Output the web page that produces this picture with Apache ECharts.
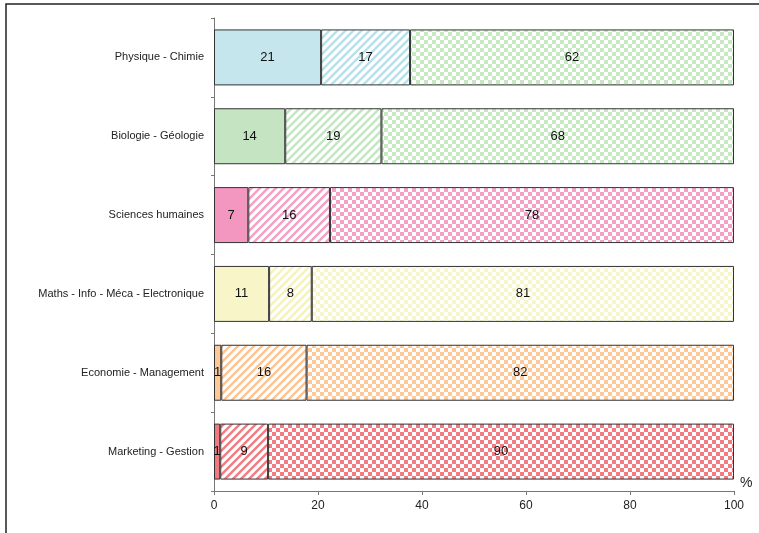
<!DOCTYPE html>
<html>
<head>
<meta charset="utf-8">
<script src="https://cdn.jsdelivr.net/npm/echarts@6/dist/echarts.min.js"></script>
<style>html,body{margin:0;padding:0;background:#fff}#c{width:759px;height:533px}</style>
</head>
<body>
<div id="c"></div>
<script>
var categories = ['Physique - Chimie', 'Biologie - Géologie', 'Sciences humaines', 'Maths - Info - Méca - Electronique', 'Economie - Management', 'Marketing - Gestion'];
var solidValues = [20.6, 13.7, 6.6, 10.6, 1.4, 1.2];
var hatchValues = [17.1, 18.5, 15.7, 8.2, 16.4, 9.2];
var checkValues = [62.3, 67.8, 77.7, 81.2, 82.2, 89.6];
var xTicks = [0, 20, 40, 60, 80, 100];
var solidColors = ['#c4e6ec', '#c5e5c2', '#f497c0', '#f8f6c8', '#fdc998', '#f17a80'];
var hatchColors = ['#b9e0e9', '#c5e5c2', '#f5a0c6', '#f6f2bf', '#fcc490', '#f27c82'];
var checkColors = ['#c6e9c3', '#c6e9c3', '#f5a0c6', '#f8f6c8', '#fdc998', '#f27c82'];

function hatchPattern(color) {
  var c = document.createElement('canvas');
  c.width = 8; c.height = 8;
  var g = c.getContext('2d');
  g.fillStyle = '#fff'; g.fillRect(0, 0, 8, 8);
  g.strokeStyle = color; g.lineWidth = 2.4;
  g.beginPath();
  g.moveTo(-2, 10); g.lineTo(10, -2);
  g.moveTo(-6, 6); g.lineTo(6, -6);
  g.moveTo(2, 14); g.lineTo(14, 2);
  g.stroke();
  return { image: c, repeat: 'repeat' };
}
function checkPattern(color) {
  var c = document.createElement('canvas');
  c.width = 8; c.height = 8;
  var g = c.getContext('2d');
  g.fillStyle = '#fff'; g.fillRect(0, 0, 8, 8);
  g.fillStyle = color;
  g.fillRect(0, 0, 4, 4); g.fillRect(4, 4, 4, 4);
  return { image: c, repeat: 'repeat' };
}

function build(values, colorFn) {
  return values.map(function (v, i) {
    return { value: v, itemStyle: { color: colorFn(i) } };
  });
}

var labelOpt = {
  show: true, position: 'inside', color: '#111', fontSize: 13,
  fontFamily: 'Liberation Sans, Arial, sans-serif',
  formatter: function (p) { return Math.round(p.value); }
};
var itemBase = { borderColor: '#333', borderWidth: 1 };

function series(name, values, colorFn) {
  return {
    name: name, type: 'bar', stack: 'all', barWidth: '71%',
    data: build(values, colorFn),
    itemStyle: itemBase, label: labelOpt, silent: true, animation: false
  };
}

var chart = echarts.init(document.getElementById('c'), null, { renderer: 'canvas' });
chart.setOption({
  animation: false,
  grid: { left: 214, right: 25, top: 18, bottom: 42, containLabel: false },
  xAxis: {
    type: 'value', min: xTicks[0], max: xTicks[xTicks.length - 1], interval: 20,
    axisLine: { show: true, lineStyle: { color: '#777', width: 1 } },
    axisTick: { show: true, length: 4, lineStyle: { color: '#777' } },
    axisLabel: { color: '#222', fontSize: 12, margin: 9, fontFamily: 'Liberation Sans, Arial, sans-serif' },
    splitLine: { show: false }
  },
  yAxis: {
    type: 'category', data: categories, inverse: true,
    axisLine: { show: true, lineStyle: { color: '#777', width: 1 } },
    axisTick: { show: true, length: 3, lineStyle: { color: '#777' } },
    axisLabel: { color: '#222', fontSize: 11, margin: 10, fontFamily: 'Liberation Sans, Arial, sans-serif' }
  },
  series: [
    series('solid', solidValues, function (i) { return solidColors[i]; }),
    series('hatch', hatchValues, function (i) { return hatchPattern(hatchColors[i]); }),
    series('check', checkValues, function (i) { return checkPattern(checkColors[i]); })
  ],
  graphic: [
    { type: 'rect', shape: { x: 6, y: 4, width: 900, height: 700 }, style: { fill: 'none', stroke: '#222', lineWidth: 1.5 }, silent: true },
    { type: 'text', left: 740, top: 476, style: { text: '%', fill: '#222', fontSize: 14, fontFamily: 'Liberation Sans, Arial, sans-serif' } }
  ]
});
</script>
</body>
</html>
